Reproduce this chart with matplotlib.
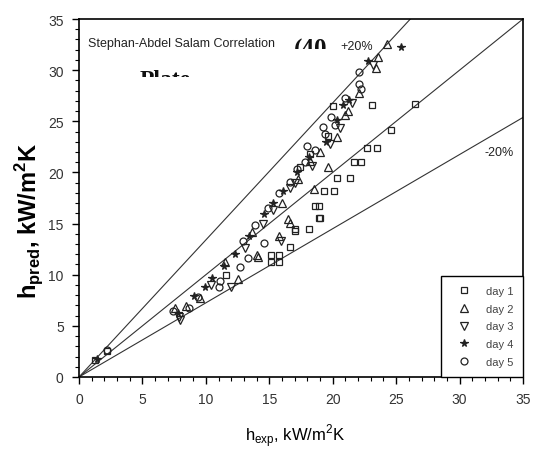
import matplotlib
matplotlib.use("Agg")
import matplotlib.pyplot as plt
from matplotlib.patches import Rectangle
from matplotlib.ticker import MultipleLocator

plt.rcParams['font.family'] = ['Liberation Sans', 'DejaVu Sans']
plt.rcParams['mathtext.fontset'] = 'custom'
plt.rcParams['mathtext.rm'] = 'Liberation Sans'
plt.rcParams['mathtext.bf'] = 'Liberation Sans:bold'

# data (h_exp, h_pred) in kW/m2K
day1_x = [1.3, 2.2, 15.1, 15.8, 15.1, 15.8, 16.6, 17.0, 17.0, 18.1, 18.9, 19.0, 18.6, 18.9, 19.3, 20.1,
          20.3, 21.4, 21.7, 22.2, 22.7, 23.5, 24.6, 23.1, 26.5, 20.0, 11.6, 17.4, 18.2, 19.6]
day1_y = [1.7, 2.5, 11.9, 11.9, 11.2, 11.2, 12.7, 14.3, 14.5, 14.5, 15.5, 15.5, 16.7, 16.7, 18.2, 18.2,
          19.5, 19.5, 21.0, 21.0, 22.4, 22.4, 24.1, 26.6, 26.7, 26.5, 10.0, 20.5, 21.8, 23.6]

day2_x = [24.3, 23.6, 23.4, 22.1, 21.0, 19.6, 18.5, 16.6, 16.5, 15.8, 14.0, 14.1, 12.5, 9.5, 7.6, 20.3,
          19.0, 17.3, 16.0, 13.6, 11.5, 8.4, 18.2, 21.2]
day2_y = [32.6, 31.3, 30.2, 27.8, 25.6, 20.5, 18.4, 15.1, 15.4, 13.8, 11.9, 11.7, 9.6, 7.7, 6.7, 23.5,
          22.0, 19.4, 17.0, 14.2, 11.2, 6.9, 21.1, 26.0]

day3_x = [23.2, 15.9, 12.0, 8.0, 7.9, 19.8, 18.4, 17.0, 15.3, 13.1, 10.4, 20.6, 21.5, 16.6, 14.5]
day3_y = [30.5, 13.3, 8.8, 5.6, 5.9, 22.8, 20.6, 19.0, 16.3, 12.6, 9.0, 24.3, 26.8, 18.5, 15.0]

day4_x = [25.4, 22.8, 20.8, 12.3, 11.4, 10.5, 9.9, 9.1, 7.8, 19.5, 18.1, 17.2, 16.1, 14.6, 13.4, 20.3,
          21.3, 15.3, 1.4]
day4_y = [32.3, 30.9, 26.6, 12.0, 10.9, 9.7, 8.8, 7.9, 6.3, 23.0, 21.5, 20.0, 18.2, 15.9, 13.8, 25.1,
          27.1, 17.0, 1.8]

day5_x = [22.1, 22.1, 22.2, 21.0, 19.9, 14.6, 13.3, 12.7, 11.1, 11.0, 7.4, 8.7, 9.4, 20.2, 19.4, 18.6,
          17.8, 17.2, 16.6, 15.8, 14.9, 13.9, 12.9, 2.2, 19.2, 18.0]
day5_y = [29.8, 28.6, 28.2, 27.3, 25.4, 13.1, 11.6, 10.8, 9.4, 8.8, 6.5, 6.7, 7.8, 24.6, 23.8, 22.2,
          21.0, 20.3, 19.1, 18.0, 16.5, 14.9, 13.3, 2.6, 24.4, 22.6]

upper_slope = 1.34
lower_slope = 0.725

fig = plt.figure(figsize=(5.38, 4.52), dpi=100)
ax = fig.add_axes([79 / 538, 74 / 452, 444 / 538, 358 / 452])

# reference lines
ax.plot([0, 35], [0, 35], color='#333333', lw=0.8, zorder=1)
ax.plot([0, 35 / upper_slope], [0, 35], color='#333333', lw=0.8, zorder=1)
ax.plot([0, 35], [0, 35 * lower_slope], color='#333333', lw=0.8, zorder=1)

mk = dict(linestyle='none', markeredgecolor='#222222', markeredgewidth=0.9, zorder=3)
ax.plot(day1_x, day1_y, marker='s', markersize=5, markerfacecolor='none', label='day 1', **mk)
ax.plot(day2_x, day2_y, marker='^', markersize=5.5, markerfacecolor='none', label='day 2', **mk)
ax.plot(day3_x, day3_y, marker='v', markersize=5.5, markerfacecolor='none', label='day 3', **mk)
ax.plot(day4_x, day4_y, marker='*', markersize=5.5, markerfacecolor='#222222', label='day 4', **mk)
ax.plot(day5_x, day5_y, marker='o', markersize=5, markerfacecolor='none', label='day 5', **mk)

ax.set_xlim(0, 35)
ax.set_ylim(0, 35)
ax.xaxis.set_major_locator(MultipleLocator(5))
ax.yaxis.set_major_locator(MultipleLocator(5))
ax.xaxis.set_minor_locator(MultipleLocator(1))
ax.yaxis.set_minor_locator(MultipleLocator(1))
ax.tick_params(which='major', direction='out', length=5, width=1, labelsize=10,
               labelcolor='#333333', pad=6)
ax.tick_params(which='minor', direction='out', length=3, width=0.8)
for s in ax.spines.values():
    s.set_linewidth(1.2)

ax.set_xlabel(r'h$_{\mathregular{exp}}$, kW/m$^{\mathregular{2}}$K', fontsize=12, va='center')
ax.set_ylabel(r'h$_{\mathregular{pred}}$, kW/m$^{\mathregular{2}}$K', fontsize=17, fontweight='bold',
              va='center')
ax.xaxis.set_label_coords(0.487, -0.163)
ax.yaxis.set_label_coords(-0.11, 0.44)

# annotations
ax.text(0.7, 32.65, 'Stephan-Abdel Salam Correlation', fontsize=9, va='center', color='#222222')
ax.text(20.6, 32.4, '+20%', fontsize=9, va='center', color='#222222')
ax.text(32.0, 21.96, '-20%', fontsize=9, va='center', color='#222222')

# partly hidden leftovers of other labels
t1 = ax.text(16.9, 31.4, '(40', fontsize=18, fontweight='bold', family='Liberation Serif',
             va='baseline', color='#111111', clip_on=True)
t1.set_clip_path(Rectangle((15, 32.06), 6, 3, transform=ax.transData))
t2 = ax.text(4.8, 28.5, 'Plate', fontsize=17, fontweight='bold', family='Liberation Serif',
             va='baseline', color='#111111', clip_on=True)
t2.set_clip_path(Rectangle((3, 29.3), 10, 3, transform=ax.transData))

leg = ax.legend(loc='lower right', borderaxespad=0, fontsize=8, fancybox=False,
                edgecolor='black', framealpha=1, numpoints=1, borderpad=0.9,
                handlelength=2.35, handletextpad=0.8, labelspacing=0.7)
leg.get_frame().set_linewidth(1.0)
for txt in leg.get_texts():
    txt.set_color('#444444')

fig.savefig('out.png', dpi=100)
